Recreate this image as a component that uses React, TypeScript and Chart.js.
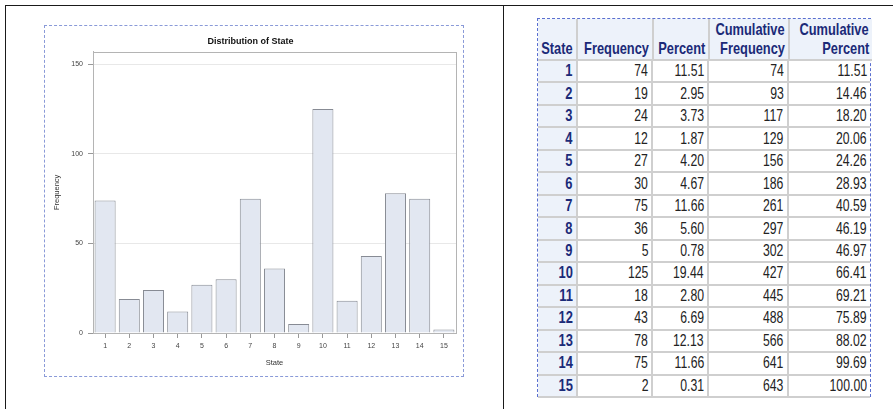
import React, { useEffect, useRef } from "react";
import { Chart, registerables } from "chart.js";

Chart.register(...registerables);

const states = ["1","2","3","4","5","6","7","8","9","10","11","12","13","14","15"];
const frequency = [74, 19, 24, 12, 27, 30, 75, 36, 5, 125, 18, 43, 78, 75, 2];
const percent = ["11.51","2.95","3.73","1.87","4.20","4.67","11.66","5.60","0.78","19.44","2.80","6.69","12.13","11.66","0.31"];
const cumFrequency = [74, 93, 117, 129, 156, 186, 261, 297, 302, 427, 445, 488, 566, 641, 643];
const cumPercent = ["11.51","14.46","18.20","20.06","24.26","28.93","40.59","46.19","46.97","66.41","69.21","75.89","88.02","99.69","100.00"];
const yTicks = [0, 50, 100, 150];

const frameBorder = {
  id: "frameBorder",
  afterDraw(chart: any) {
    const { ctx, chartArea } = chart;
    ctx.save();
    ctx.strokeStyle = "#b4b4b4";
    ctx.lineWidth = 1;
    ctx.strokeRect(Math.round(chartArea.left) + 0.5, Math.round(chartArea.top) + 0.5,
      Math.round(chartArea.right - chartArea.left), Math.round(chartArea.bottom - chartArea.top));
    ctx.restore();
  },
};

function BarChart() {
  const ref = useRef<HTMLCanvasElement>(null);
  useEffect(() => {
    const chart = new Chart(ref.current!, {
      type: "bar",
      data: {
        labels: states,
        datasets: [{
          data: frequency,
          backgroundColor: "#e2e7f1",
          borderColor: "#878b94",
          borderWidth: 1,
          barPercentage: 0.87,
          categoryPercentage: 1,
        }],
      },
      plugins: [frameBorder],
      options: {
        animation: false,
        responsive: false,
        devicePixelRatio: 1,
        layout: { padding: { left: 0, right: 7, top: 0, bottom: 0 } },
        plugins: {
          legend: { display: false },
          tooltip: { enabled: false },
          title: {
            display: true,
            text: "Distribution of State",
            color: "#111",
            font: { family: "Liberation Sans, Arial, sans-serif", size: 9, weight: "bold" },
            padding: { top: 10, bottom: 5 },
          },
        },
        scales: {
          x: {
            offset: true,
            grid: { display: true, drawOnChartArea: false, offset: false, tickLength: 5, tickColor: "#999" },
            border: { display: true, color: "#b4b4b4" },
            ticks: { color: "#444", font: { family: "Liberation Sans, Arial, sans-serif", size: 7 }, padding: 4, maxRotation: 0 },
            title: { display: true, text: "State", color: "#333", font: { family: "Liberation Sans, Arial, sans-serif", size: 7.5 }, padding: { top: 0, bottom: 9 } },
            afterFit: (s: any) => { s.height = 43; },
          },
          y: {
            min: 0,
            max: 157,
            afterBuildTicks: (s: any) => { s.ticks = yTicks.map((v) => ({ value: v })); },
            grid: { color: "#e8e8e8", tickLength: 5, tickColor: "#999" },
            border: { display: true, color: "#b4b4b4" },
            ticks: { color: "#444", font: { family: "Liberation Sans, Arial, sans-serif", size: 7 }, padding: 5 },
            title: { display: true, text: "Frequency", color: "#333", font: { family: "Liberation Sans, Arial, sans-serif", size: 7.5 }, padding: { top: 7, bottom: 0 } },
            afterFit: (s: any) => { s.width = 48; },
          },
        },
      },
    });
    return () => chart.destroy();
  }, []);
  return <canvas ref={ref} width={418} height={350} style={{ display: "block", width: 418, height: 350 }} />;
}

const colWidths = [40, 76, 56, 80, 82];
const headers: string[][] = [["State"], ["Frequency"], ["Percent"], ["Cumulative", "Frequency"], ["Cumulative", "Percent"]];

function Narrow({ text, scale }: { text: string; scale: number }) {
  return (
    <span style={{ display: "inline-block", transform: `scaleX(${scale})`, transformOrigin: "right center", whiteSpace: "nowrap" }}>{text}</span>
  );
}

export default function App() {
  const headerH = 42;
  const rowH = 22.47;
  const font = "'Liberation Sans', Arial, sans-serif";
  const cellBase: React.CSSProperties = {
    boxSizing: "border-box",
    paddingRight: 3,
    borderRight: "2px solid #cfcfcf",
    borderBottom: "2px solid #cfcfcf",
    fontFamily: font,
    fontSize: 17,
    display: "flex",
    justifyContent: "flex-end",
    whiteSpace: "nowrap",
  };
  const headerBg = "#edf2fa";
  const navy = "#1b2a78";
  const rows = states.map((s, i) => [s, String(frequency[i]), percent[i], String(cumFrequency[i]), cumPercent[i]]);
  return (
    <div style={{ position: "absolute", left: 0, top: 0, width: 894, height: 409, background: "#fff", overflow: "hidden" }}>
      <div style={{ position: "absolute", left: 5, top: 5, width: 888, height: 1, background: "#1a1a1a" }} />
      <div style={{ position: "absolute", left: 5, top: 5, width: 1, height: 404, background: "#1a1a1a" }} />
      <div style={{ position: "absolute", left: 503, top: 5, width: 1, height: 404, background: "#1a1a1a" }} />
      <div style={{ position: "absolute", left: 44, top: 25, width: 418, height: 350, border: "1px dashed #8a9ad8" }}>
        <BarChart />
      </div>
      <div style={{ position: "absolute", left: 537, top: 18, width: 334, height: headerH + rowH * 15, borderTop: "1px dashed #5a6fd0", borderLeft: "1px dashed #5a6fd0", borderRight: "1px dashed #5a6fd0", boxSizing: "border-box" }}>
        <div style={{ display: "flex", height: headerH }}>
          {headers.map((h, ci) => (
            <div key={ci} style={{ ...cellBase, width: colWidths[ci], height: headerH, background: headerBg, color: navy, fontWeight: "bold", flexDirection: "column", justifyContent: "flex-end", alignItems: "flex-end", lineHeight: "19px", paddingBottom: 1, borderRight: ci === 4 ? "none" : cellBase.borderRight }}>
              {h.map((t, k) => <Narrow key={k} text={t} scale={0.755} />)}
            </div>
          ))}
        </div>
        {rows.map((r, ri) => (
          <div key={ri} style={{ display: "flex", height: rowH }}>
            {r.map((v, ci) => (
              <div key={ci} style={{ ...cellBase, width: colWidths[ci], height: rowH, alignItems: "center", lineHeight: "18px",
                background: ci === 0 ? headerBg : "#fff", color: ci === 0 ? navy : "#222", fontWeight: ci === 0 ? "bold" : "normal",
                borderRight: ci === 4 ? "none" : cellBase.borderRight }}>
                <Narrow text={v} scale={ci === 0 ? 0.76 : 0.72} />
              </div>
            ))}
          </div>
        ))}
      </div>
    </div>
  );
}
